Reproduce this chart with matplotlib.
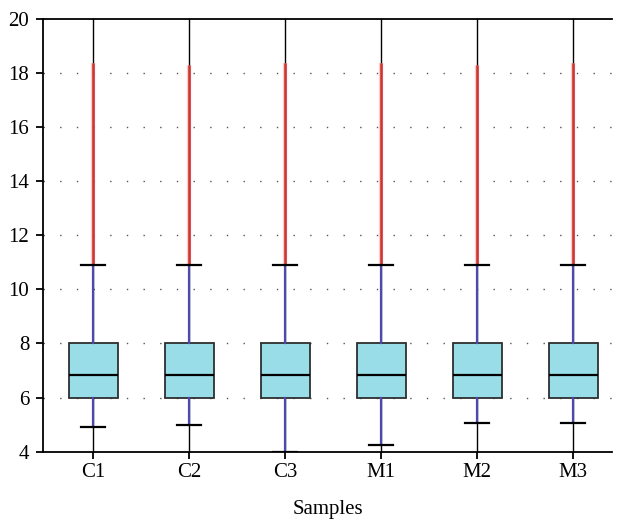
import numpy as np
import matplotlib.pyplot as plt

samples = ['C1', 'C2', 'C3', 'M1', 'M2', 'M3']
q1 = [6.0, 6.0, 6.0, 6.0, 6.0, 6.0]
med = [6.85, 6.85, 6.85, 6.85, 6.85, 6.85]
q3 = [8.0, 8.0, 8.0, 8.0, 8.0, 8.0]
whislo = [4.9, 5.0, 4.0, 4.25, 5.05, 5.05]
whishi = [10.9, 10.9, 10.9, 10.9, 10.9, 10.9]
out_lo = [10.9, 10.9, 10.9, 10.9, 10.9, 10.9]
out_hi = [18.35, 18.3, 18.35, 18.35, 18.3, 18.35]

plt.rcParams['font.family'] = ['Liberation Serif', 'DejaVu Serif']

fig = plt.figure(figsize=(6.17, 5.21), dpi=100)
ax = fig.add_axes([0.07, 0.133, 0.922, 0.831])

pos = np.arange(1, len(samples) + 1)

# black guide lines through each box position
for p in pos:
    ax.axvline(p, color='black', lw=1.0, zorder=1)

for y in range(6, 20, 2):
    ax.axhline(y, color='#555555', lw=1.0, linestyle=(0, (1, 11)), zorder=0.5)

stats = []
for i, s in enumerate(samples):
    stats.append(dict(label=s, q1=q1[i], med=med[i], q3=q3[i],
                      whislo=whislo[i], whishi=whishi[i], fliers=[]))

ax.bxp(stats, positions=pos, widths=0.51, patch_artist=True, showfliers=False,
       boxprops=dict(facecolor='#99dde8', edgecolor='#2e2e2e', lw=1.3),
       medianprops=dict(color='black', lw=1.6),
       whiskerprops=dict(color='#4a4ab0', lw=1.6),
       capprops=dict(color='black', lw=1.6), capwidths=0.25, zorder=3)

# outliers: dense red points
ax.vlines(pos, out_lo, out_hi, color='#f2a0a0', lw=3.2, alpha=0.5, zorder=1.5)
ax.vlines(pos, out_lo, out_hi, color='#d03430', lw=1.8, zorder=2)

ax.set_xlim(0.479, 6.406)
ax.set_ylim(4, 20)
ax.set_yticks(range(4, 21, 2))
ax.set_xticks(pos)
ax.set_xticklabels(samples)
ax.tick_params(axis='both', labelsize=15, direction='out', length=5, width=1.3, color='black')
ax.tick_params(axis='x', pad=3)
ax.tick_params(axis='y', pad=5)
ax.set_xlabel('Samples', fontsize=15, labelpad=13)

ax.spines['right'].set_visible(False)
for sp in ['top', 'left', 'bottom']:
    ax.spines[sp].set_linewidth(1.3)

fig.savefig('out.png', dpi=100)
